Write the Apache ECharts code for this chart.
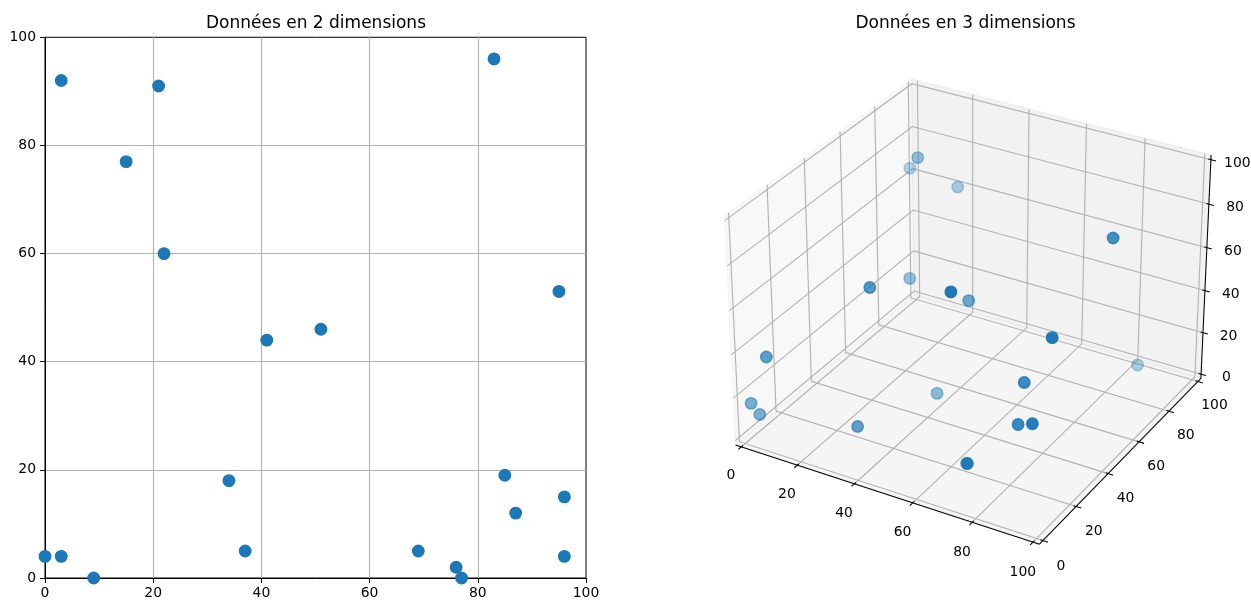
<!DOCTYPE html>
<html>
<head>
<meta charset="utf-8">
<title>Données en 2 et 3 dimensions</title>
<script src="https://cdn.jsdelivr.net/npm/echarts@6.0.0/dist/echarts.min.js"></script>
<style>
  html, body { margin: 0; padding: 0; background: #ffffff; }
  #chart { width: 1251px; height: 600px; }
</style>
</head>
<body>
<div id="chart"></div>
<script>
// same (x, y) points in both plots, plus z for the 3D one
const xs = [0, 3, 3, 9, 15, 21, 22, 34, 37, 41, 51, 69, 76, 77, 83, 85, 87, 95, 96, 96];
const ys = [4, 4, 92, 0, 77, 91, 60, 18, 5, 44, 46, 5, 2, 0, 96, 19, 12, 53, 15, 4];
const zs = [14, 10, 68, 42, 86, 66, 43, 71, 18, 7, 53, 91, 20, 22, 1, 48, 35, 93, 75, 45];
const axisTicks = [0, 20, 40, 60, 80, 100];

const BLUE = '#1f77b4';
const FONT = 'DejaVu Sans';
const GRID_GREY = '#b0b0b0';

// ---- 3D projection, same maths as matplotlib (elev 30, azim -60, dist 10, box 4:4:3)
const lim = [0, 100];
const elev = 30 * Math.PI / 180;
const azim = -60 * Math.PI / 180;
const dist = 10;
const k = 1.8294640721620434 / Math.sqrt(41);
const box = [4 * k, 4 * k, 3 * k];
const mid = box.map(b => b / 2);
const look = [Math.cos(elev) * Math.cos(azim), Math.cos(elev) * Math.sin(azim), Math.sin(elev)];
const eye = mid.map((c, i) => c + dist * look[i]);
const cross = (a, b) => [a[1] * b[2] - a[2] * b[1], a[2] * b[0] - a[0] * b[2], a[0] * b[1] - a[1] * b[0]];
const dot = (a, b) => a[0] * b[0] + a[1] * b[1] + a[2] * b[2];
const w = look;
let u = cross([0, 0, 1], w);
const un = Math.hypot(u[0], u[1], u[2]);
u = u.map(c => c / un);
const v = cross(w, u);

function proj(p) {
  const q = p.map((c, i) => (c - lim[0]) / (lim[1] - lim[0]) * box[i] - eye[i]);
  const depth = -dot(w, q);
  return [dot(u, q) / depth, dot(v, q) / depth, -dist / depth];
}

// pane bounds are pushed out by range/48 like mpl does
const m = (lim[1] - lim[0]) / 48;
const lo = lim[0] - m, hi = lim[1] + m;
const dl = (lim[1] - lim[0]) / 12;
const labOff = (3.5 + 8) * 48 / (2 * 5.41 * 72) * dl;

const panes = [
  { pts: [[lo, lo, lo], [lo, hi, lo], [lo, hi, hi], [lo, lo, hi]], color: 'rgba(242,242,242,0.5)' },
  { pts: [[lo, hi, lo], [hi, hi, lo], [hi, hi, hi], [lo, hi, hi]], color: 'rgba(230,230,230,0.5)' },
  { pts: [[lo, lo, lo], [hi, lo, lo], [hi, hi, lo], [lo, hi, lo]], color: 'rgba(236,236,236,0.5)' }
];

const gridLines = [];
axisTicks.forEach(t => {
  gridLines.push([[t, lo, lo], [t, hi, lo], [t, hi, hi]]);
  gridLines.push([[lo, t, hi], [lo, t, lo], [hi, t, lo]]);
  gridLines.push([[hi, hi, t], [lo, hi, t], [lo, lo, t]]);
});

const axisLines = [
  [[lo, lo, lo], [hi, lo, lo]],
  [[hi, lo, lo], [hi, hi, lo]],
  [[hi, hi, lo], [hi, hi, hi]]
];
axisTicks.forEach(t => {
  axisLines.push([[t, lo + 0.1 * dl, lo], [t, lo - 0.2 * dl, lo]]);
  axisLines.push([[hi - 0.1 * dl, t, lo], [hi + 0.2 * dl, t, lo]]);
  axisLines.push([[hi - 0.1 * dl, hi, t], [hi + 0.2 * dl, hi, t]]);
});

const tickLabels = [];
axisTicks.forEach(t => {
  tickLabels.push({ p: [t, lo - labOff, lo - labOff], text: String(t) });
  tickLabels.push({ p: [hi + labOff, t, lo - labOff], text: String(t) });
  tickLabels.push({ p: [hi + labOff, hi + labOff, t], text: String(t) });
});

// points: farthest first, depth shading like mpl
const pts3 = xs.map((x, i) => proj([x, ys[i], zs[i]]));
const dmin = Math.min(...pts3.map(p => p[2]));
const dmax = Math.max(...pts3.map(p => p[2]));
const order = pts3.map((p, i) => i).sort((a, b) => pts3[b][2] - pts3[a][2]);
const scatter3 = order.map(i => ({
  value: [pts3[i][0], pts3[i][1]],
  itemStyle: { opacity: 1 - 0.7 * (pts3[i][2] - dmin) / (dmax - dmin) }
}));

function customSeries(list, first, render, z) {
  return {
    type: 'custom',
    coordinateSystem: 'cartesian2d',
    xAxisIndex: 1,
    yAxisIndex: 1,
    clip: false,
    silent: true,
    z: z,
    data: list.map((it, i) => { const p = proj(first(it)); return [p[0], p[1], i]; }),
    renderItem: (params, api) => render(list[params.dataIndex], api)
  };
}

const toPix = (api, p) => { const q = proj(p); return api.coord([q[0], q[1]]); };

const chart = echarts.init(document.getElementById('chart'));

const axis2d = {
  gridIndex: 0,
  type: 'value',
  min: 0,
  max: 100,
  interval: 20,
  axisLine: { show: true, onZero: false, lineStyle: { color: '#000', width: 1 } },
  axisTick: { show: true, length: 5, lineStyle: { color: '#000', width: 1 } },
  axisLabel: { color: '#000', fontSize: 13.9, fontFamily: FONT, margin: 8 },
  splitLine: { show: true, showMinLine: false, showMaxLine: false, lineStyle: { color: GRID_GREY, width: 1.1 } }
};

chart.setOption({
  animation: false,
  backgroundColor: '#ffffff',
  title: [
    {
      text: 'Données en 2 dimensions',
      left: 311, top: 10, textAlign: 'center',
      textStyle: { fontSize: 17, fontWeight: 'normal', fontFamily: FONT, color: '#000' }
    },
    {
      text: 'Données en 3 dimensions',
      left: 960.5, top: 10, textAlign: 'center',
      textStyle: { fontSize: 17, fontWeight: 'normal', fontFamily: FONT, color: '#000' }
    }
  ],
  grid: [
    { left: 45, top: 37.3, width: 541, height: 541, show: true, borderColor: '#000', borderWidth: 1, backgroundColor: 'transparent' },
    { left: 694.7, top: 37.3, width: 541, height: 541, show: false }
  ],
  xAxis: [
    axis2d,
    { gridIndex: 1, type: 'value', min: -0.095, max: 0.09, show: false }
  ],
  yAxis: [
    Object.assign({}, axis2d, { axisLabel: { color: '#000', fontSize: 13.9, fontFamily: FONT, margin: 9 } }),
    { gridIndex: 1, type: 'value', min: -0.095, max: 0.09, show: false }
  ],
  series: [
    {
      type: 'scatter',
      xAxisIndex: 0,
      yAxisIndex: 0,
      data: xs.map((x, i) => [x, ys[i]]),
      symbolSize: 11.5,
      clip: true,
      silent: true,
      itemStyle: { color: BLUE, borderColor: BLUE, borderWidth: 1.4, opacity: 1 },
      emphasis: { disabled: true }
    },
    customSeries(panes, it => it.pts[0], (it, api) => ({
      type: 'polygon',
      shape: { points: it.pts.map(p => toPix(api, p)) },
      style: { fill: it.color, stroke: it.color, lineWidth: 1.4 }
    }), 1),
    customSeries(gridLines, it => it[0], (it, api) => ({
      type: 'polyline',
      shape: { points: it.map(p => toPix(api, p)) },
      style: { fill: null, stroke: GRID_GREY, lineWidth: 1.1 }
    }), 2),
    customSeries(axisLines, it => it[0], (it, api) => ({
      type: 'polyline',
      shape: { points: it.map(p => toPix(api, p)) },
      style: { fill: null, stroke: '#000', lineWidth: 1.05 }
    }), 3),
    customSeries(tickLabels, it => it.p, (it, api) => {
      const c = toPix(api, it.p);
      return {
        type: 'text',
        x: c[0],
        y: c[1],
        style: {
          text: it.text, fill: '#000', fontSize: 13.9, fontFamily: FONT,
          align: 'center', verticalAlign: 'top', textAlign: 'center', textVerticalAlign: 'top'
        }
      };
    }, 3),
    {
      type: 'scatter',
      xAxisIndex: 1,
      yAxisIndex: 1,
      data: scatter3,
      symbolSize: 11.5,
      clip: false,
      silent: true,
      z: 5,
      itemStyle: { color: BLUE, borderColor: BLUE, borderWidth: 1.4 },
      emphasis: { disabled: true }
    }
  ]
});
</script>
</body>
</html>
